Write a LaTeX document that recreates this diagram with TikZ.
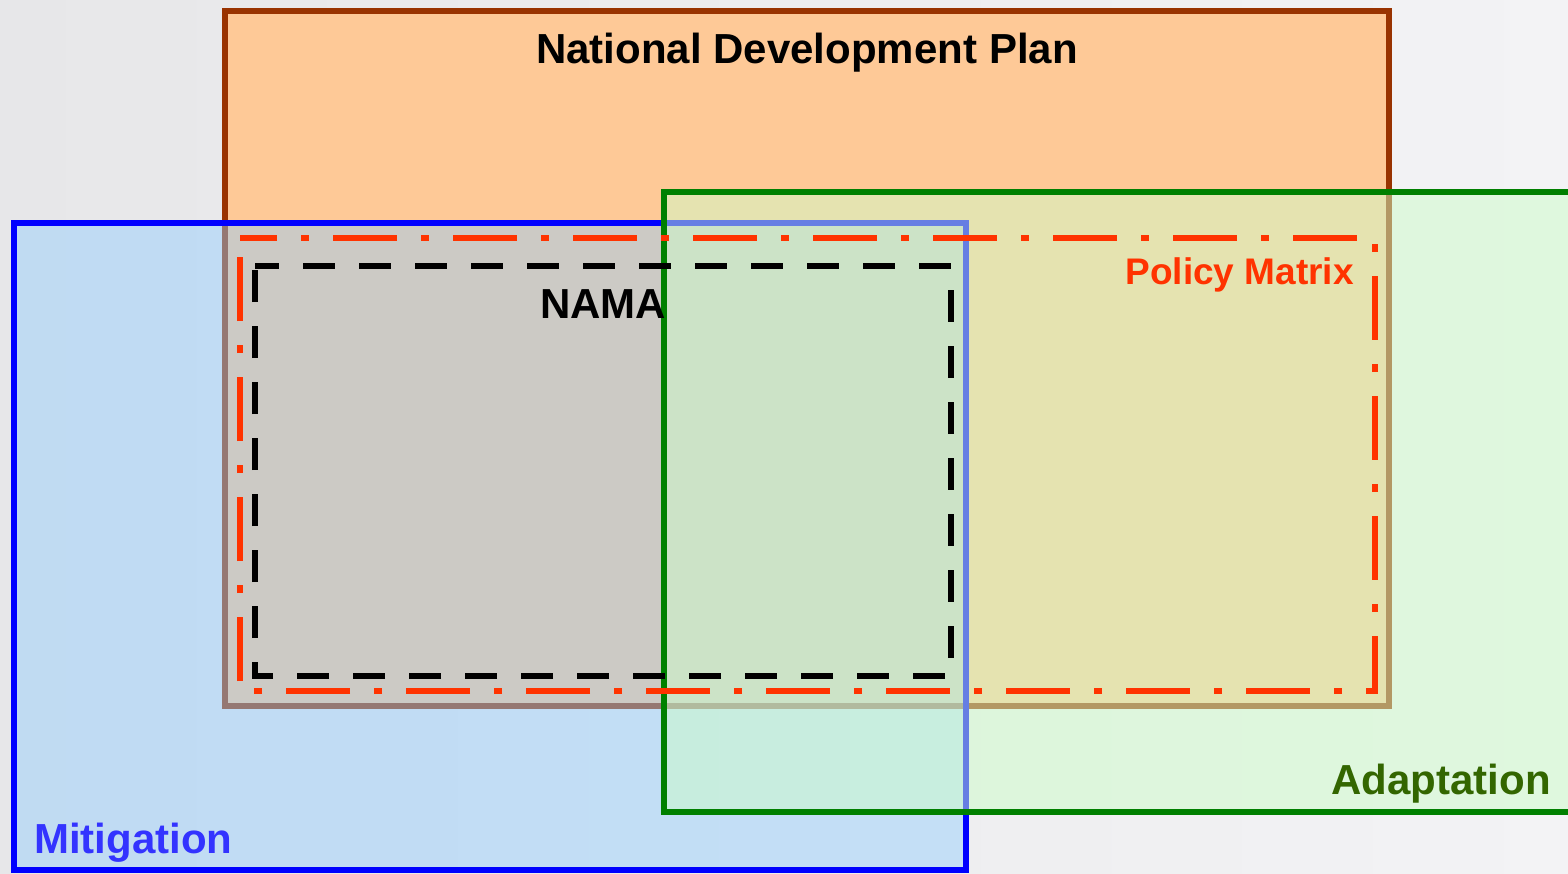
\documentclass[tikz,border=0pt]{standalone}
\usepackage{fontspec}
\setmainfont{Liberation Sans}
\definecolor{bgleft}{RGB}{231,231,233}
\definecolor{bgright}{RGB}{243,243,245}
\definecolor{ndpfill}{RGB}{254,201,151}
\definecolor{ndpline}{RGB}{153,51,0}
\definecolor{mitfill}{RGB}{145,205,255}
\definecolor{mitline}{RGB}{0,0,255}
\definecolor{mittext}{RGB}{51,51,255}
\definecolor{adafill}{RGB}{205,253,201}
\definecolor{adaline}{RGB}{0,128,0}
\definecolor{adatext}{RGB}{51,102,0}
\definecolor{polred}{RGB}{255,51,0}
\begin{document}
\begin{tikzpicture}[x=1pt,y=-1pt,
    frame/.style={line width=5.5pt},
    label/.style={font=\bfseries\fontsize{42}{42}\selectfont,inner sep=0pt,anchor=base}]
  \useasboundingbox (0,0) rectangle (1568,873);
  \shade[left color=bgleft,right color=bgright] (0,0) rectangle (1568,873);
  % boxes
  \draw[frame,draw=ndpline,fill=ndpfill] (225,11) rectangle (1389,706);
  \draw[frame,draw=mitline,fill=mitfill,fill opacity=0.45] (14,223) rectangle (966,870);
  \draw[frame,draw=adaline,fill=adafill,fill opacity=0.5] (664,192) rectangle (1580,812);
  \draw[line width=6pt,draw=polred,dash pattern=on 64pt off 24pt on 8pt off 24pt,dash phase=27pt]
    (240,238) -- (1375,238) -- (1375,691) -- (240,691) -- cycle;
  \draw[line width=6pt,draw=black,dash pattern=on 32pt off 24pt,dash phase=8pt]
    (255,266) -- (951,266) -- (951,676) -- (255,676) -- cycle;
  % labels
  \node[label] (ndp) at (807,63) {National Development Plan};
  \node[label] (nama) at (603,318) {NAMA};
  \node[label,anchor=base east,text=polred,font=\bfseries\fontsize{37}{37}\selectfont] (matrix) at (1354,284) {Policy Matrix};
  \node[label,anchor=base west,text=mittext] (mitigation) at (34,853) {Mitigation};
  \node[label,anchor=base east,text=adatext] (adaptation) at (1551,794) {Adaptation};
\end{tikzpicture}
\end{document}
